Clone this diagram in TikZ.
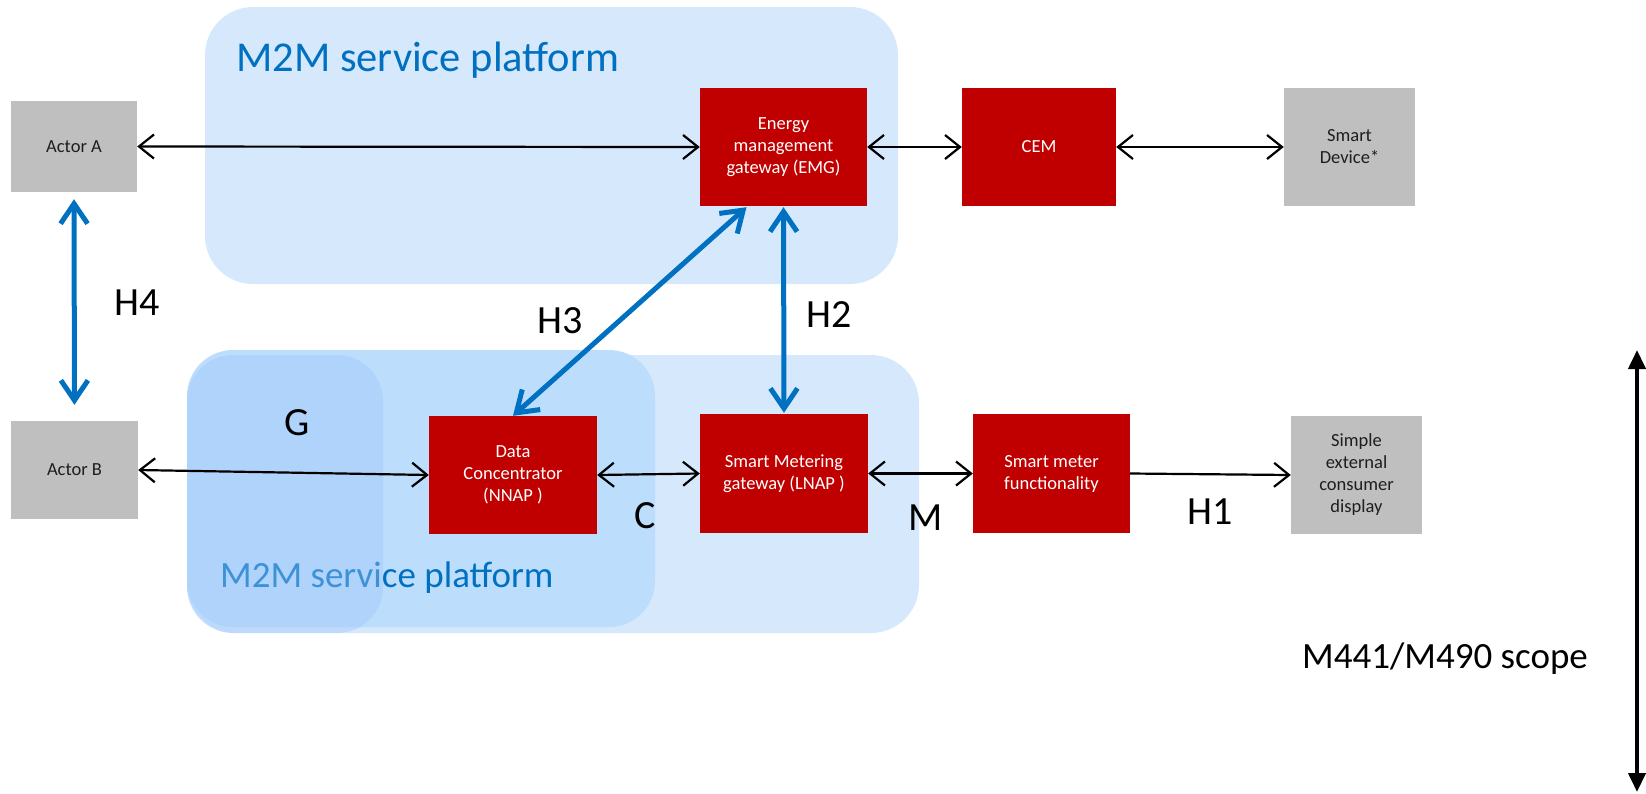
\documentclass[tikz,border=0pt]{standalone}
\usepackage{fontspec}
\setmainfont{Carlito}
\usetikzlibrary{arrows.meta,calc}
\definecolor{plat}{RGB}{213,232,252}
\definecolor{platmid}{RGB}{189,221,252}
\definecolor{platin}{RGB}{154,196,250}
\definecolor{tblue}{RGB}{0,112,192}
\definecolor{boxred}{RGB}{192,0,0}
\definecolor{boxgray}{RGB}{191,191,191}
\definecolor{txtdark}{RGB}{30,30,30}
\tikzset{
  blackbarb/.tip={Straight Barb[length=15pt,width=24pt]},
  bluebarb/.tip={Straight Barb[length=20pt,width=27pt]},
}
\begin{document}
\begin{tikzpicture}[x=1pt,y=-1pt,
  redbox/.style={fill=boxred, text=white, align=center, inner sep=0pt, font=\fontsize{18.5}{22}\selectfont},
  graybox/.style={fill=boxgray, text=txtdark, align=center, inner sep=0pt, font=\fontsize{18.5}{22}\selectfont},
  conn/.style={line width=2.2pt, draw=black, blackbarb-blackbarb},
  conn1/.style={line width=2.2pt, draw=black, -blackbarb},
  hlink/.style={line width=5pt, draw=tblue, bluebarb-bluebarb},
  scope/.style={line width=4pt, draw=black, {Triangle[length=19pt,width=17pt]}-{Triangle[length=19pt,width=17pt]}},
  lbl/.style={font=\fontsize{40}{48}\selectfont, text=black, inner sep=0pt},
  plattitle/.style={text=tblue, inner sep=0pt, anchor=base west},
]
\useasboundingbox (0,0) rectangle (1646,793);

% platforms
\fill[plat, rounded corners=48pt] (205,7) rectangle (898,284);
\fill[plat, rounded corners=48pt] (187,355) rectangle (919,633);
\fill[platmid, rounded corners=46pt] (187,350) rectangle (655,627);
\node[plattitle, font=\fontsize{42.5}{50}\selectfont] (ptop) at (236,71) {M2M service platform};
\node[plattitle, font=\fontsize{37}{44}\selectfont] (pbot) at (220,587) {M2M service platform};
\fill[platin, fill opacity=0.4, rounded corners=46pt] (187,355) rectangle (383,633);

% boxes
\node[graybox, minimum width=126pt, minimum height=91pt] (actorA) at (74,146.5) {Actor A};
\node[redbox, minimum width=167pt, minimum height=118pt] (emg) at (783.5,147) {Energy\\management\\gateway (EMG)};
\node[redbox, minimum width=154pt, minimum height=118pt] (cem) at (1039,147) {CEM};
\node[graybox, minimum width=131pt, minimum height=118pt] (sdev) at (1349.5,147) {Smart\\Device*};
\node[graybox, minimum width=127pt, minimum height=98pt] (actorB) at (74.5,470) {Actor B};
\node[redbox, minimum width=168pt, minimum height=118pt] (dc) at (513,475) {Data\\Concentrator\\(NNAP )};
\node[redbox, minimum width=168pt, minimum height=119pt] (smg) at (784,473.5) {Smart Metering\\gateway (LNAP )};
\node[redbox, minimum width=157pt, minimum height=119pt] (smf) at (1051.5,473.5) {Smart meter\\functionality};
\node[graybox, minimum width=131pt, minimum height=118pt] (disp) at (1356.5,475) {Simple\\external\\consumer\\display};

% black connectors
\draw[conn] (actorA.east) -- (emg.west);
\draw[conn] (emg.east) -- (cem.west);
\draw[conn] (cem.east) -- (sdev.west);
\draw[conn] (actorB.east) -- (dc.west);
\draw[conn] (dc.east) -- (smg.west);
\draw[conn] (smg.east) -- (smf.west);
\draw[conn1] (smf.east) -- (disp.west);

% blue interfaces
\coordinate (h3top) at ($(emg.south)+(-37,1)$);
\draw[hlink, shorten <=7pt, shorten >=16pt] (actorA.south) -- (actorB.north);
\draw[hlink, shorten <=1pt, shorten >=1pt] (emg.south) -- (smg.north);
\draw[hlink] (h3top) -- (dc.north);

% labels
\node[lbl] (lH4) at (137,303) {H4};
\node[lbl] (lH3) at (560,321) {H3};
\node[lbl] (lH2) at (829,315) {H2};
\node[lbl] (lG) at (297,423) {G};
\node[lbl] (lC) at (645,516) {C};
\node[lbl] (lM) at (926,518) {M};
\node[lbl] (lH1) at (1210,512) {H1};

% scope
\coordinate (sctop) at (1637,350);
\coordinate (scbot) at (1637,792);
\draw[scope] (sctop) -- (scbot);
\node[inner sep=0pt, anchor=base west, font=\fontsize{37}{44}\selectfont] (scopetxt) at (1302,668) {M441/M490 scope};
\end{tikzpicture}
\end{document}
